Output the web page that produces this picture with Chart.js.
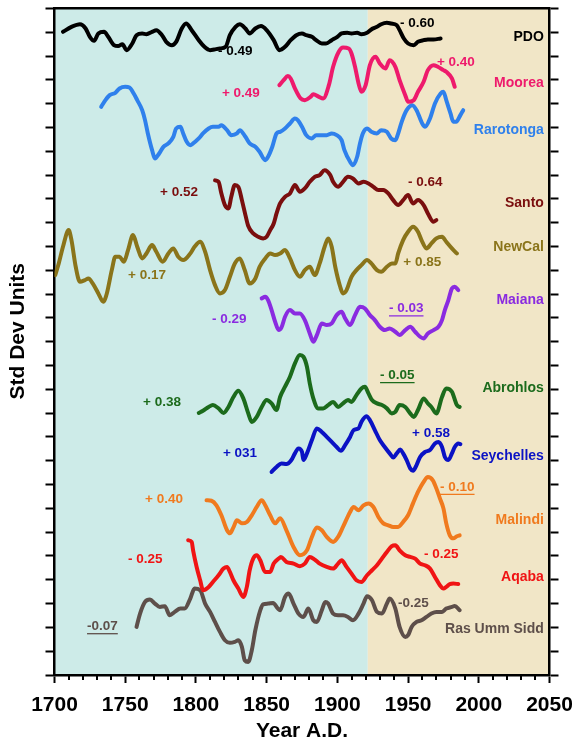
<!DOCTYPE html>
<html><head><meta charset="utf-8">
<script src="https://cdn.jsdelivr.net/npm/chart.js@4.4.1/dist/chart.umd.min.js"></script>
<style>html,body{margin:0;padding:0;background:#fff}#wrap{width:572px;height:742px;position:relative}</style>
</head><body><div id="wrap"><canvas id="c"></canvas></div>
<script>
// Year ticks
const yearMin = 1700, yearMax = 2050, yearStep = 10, yearLabelStep = 50;
const periodSplit = 1921.5;
// Stacked standard-deviation records: [year, value on stacked axis]
const pdo = [[1706,27.02],[1712,27.23],[1718,27.34],[1722,27.16],[1725,26.81],[1728,26.64],[1731,26.95],[1735,27.02],[1738,26.81],[1742,26.46],[1745,26.42],[1748,26.50],[1751,26.25],[1755,26.53],[1758,26.88],[1762,26.95],[1765,26.92],[1769,27.02],[1772,27.09],[1776,26.88],[1779,26.60],[1783,26.46],[1786,26.60],[1790,27.16],[1793,27.37],[1797,27.09],[1802,26.67],[1806,26.39],[1810,26.25],[1813,26.28],[1817,26.32],[1821,26.39],[1824,26.88],[1828,27.23],[1831,27.34],[1835,27.16],[1838,26.95],[1842,27.16],[1846,27.26],[1850,27.09],[1855,26.67],[1859,26.25],[1863,26.39],[1867,26.67],[1871,26.88],[1875,26.95],[1878,26.88],[1882,26.81],[1885,26.67],[1889,26.53],[1892,26.53],[1896,26.67],[1900,26.81],[1903,26.95],[1907,26.98],[1910,26.95],[1914,26.98],[1917,26.92],[1921,26.98],[1924,27.12],[1928,27.23],[1931,27.34],[1935,27.40],[1938,27.37],[1942,27.30],[1944,27.09],[1947,26.74],[1950,26.53],[1954,26.46],[1957,26.60],[1961,26.67],[1964,26.70],[1968,26.70],[1973,26.74]];
const moorea = [[1859,24.78],[1862,24.99],[1865,25.16],[1867,25.06],[1870,24.64],[1874,24.22],[1877,24.15],[1881,24.29],[1883,24.40],[1887,24.29],[1890,24.22],[1894,24.78],[1897,25.55],[1901,26.18],[1904,26.36],[1908,26.32],[1910,26.11],[1912.5,25.55],[1915,24.85],[1917,24.50],[1920,24.78],[1923,25.62],[1927,25.97],[1930,25.69],[1934,25.48],[1937,25.83],[1941,25.55],[1944,24.99],[1948,24.36],[1950,24.08],[1954,24.15],[1957,24.50],[1961,24.92],[1964,25.41],[1968,25.62],[1971,25.55],[1975,25.41],[1977,25.34],[1981,25.06],[1983,24.71]];
const rarotonga = [[1733,23.87],[1736,24.15],[1739,24.36],[1743,24.46],[1746,24.64],[1750,24.71],[1753,24.68],[1756,24.43],[1758.5,24.15],[1762,23.73],[1764,23.31],[1766,22.75],[1769,22.05],[1771,21.70],[1774,21.91],[1777,22.19],[1780.5,22.33],[1784,22.61],[1786,22.96],[1789,23.03],[1791,22.75],[1793.5,22.40],[1796,22.26],[1798,22.33],[1802,22.54],[1805,22.75],[1809,22.96],[1812,23.03],[1816,23.03],[1818,23.10],[1822,22.89],[1825,22.68],[1829,22.75],[1831,22.89],[1835,22.61],[1838,22.33],[1842,22.19],[1845,21.98],[1849,21.63],[1851,21.77],[1854,22.19],[1857,22.75],[1859.5,22.82],[1863,22.96],[1866.5,23.17],[1870,23.38],[1872,23.31],[1875,23.03],[1878,22.68],[1882,22.54],[1885,22.68],[1889,22.68],[1892.5,22.68],[1896,22.75],[1899.5,22.68],[1903,22.47],[1905,22.05],[1909,21.56],[1911,21.42],[1914,21.77],[1916,22.33],[1918,22.75],[1921,22.96],[1924,22.82],[1928,22.75],[1931,22.89],[1935,22.82],[1938,22.54],[1941,22.47],[1943,22.75],[1945.5,23.24],[1949,23.73],[1953,23.94],[1956,23.73],[1960,23.17],[1962,23.03],[1965.5,23.38],[1969,24.01],[1973,24.43],[1975,24.50],[1977,24.15],[1980,23.59],[1982,23.24],[1984,23.24],[1987,23.52],[1989,23.73]];
const santo = [[1813.5,20.78],[1816,20.72],[1818,20.23],[1820.5,19.74],[1823,19.60],[1825,20.09],[1827.5,20.58],[1830,20.51],[1832.5,19.95],[1835,19.32],[1837,18.86],[1840.5,18.55],[1844,18.41],[1847.5,18.34],[1850,18.41],[1852.5,18.69],[1855,18.97],[1857,19.39],[1859.5,19.81],[1863,20.09],[1866.5,20.23],[1870,20.58],[1873.5,20.30],[1877,20.44],[1880.5,20.72],[1884,20.93],[1887.5,21.00],[1891,21.21],[1895,21.00],[1897,20.72],[1900.5,20.51],[1904,20.72],[1907.5,20.93],[1911,20.86],[1915,20.65],[1918.5,20.72],[1922,20.65],[1925.5,20.51],[1929,20.37],[1932.5,20.37],[1936,20.23],[1939.5,19.95],[1943,19.74],[1946.5,19.95],[1950,20.16],[1953.5,19.81],[1957,19.95],[1961,19.74],[1964,19.39],[1968,19.04],[1970,19.11]];
const newcal = [[1700.5,16.80],[1703,17.29],[1706,17.99],[1710,18.69],[1712,18.27],[1715,17.15],[1718,16.52],[1721.5,16.59],[1724,16.66],[1727,16.45],[1731,16.03],[1734.5,15.68],[1737,16.03],[1740.5,17.01],[1743,17.57],[1746,17.57],[1749,17.36],[1752,17.85],[1755.5,18.48],[1758.5,17.99],[1762,17.50],[1765,17.71],[1769,18.06],[1772,17.78],[1776.5,17.36],[1780.5,17.71],[1784,17.92],[1787.5,17.57],[1791,17.43],[1796,17.71],[1799,17.99],[1803,18.20],[1806.5,17.78],[1810,17.01],[1813.5,16.38],[1817,16.03],[1820.5,16.17],[1824,16.73],[1827.5,17.29],[1831,17.50],[1834.5,17.01],[1838,16.45],[1842,16.66],[1845,17.15],[1849,17.50],[1852.5,17.71],[1856,17.64],[1859.5,17.71],[1863,17.85],[1866.5,17.50],[1870,17.01],[1873.5,16.73],[1877,17.01],[1880.5,17.15],[1884,16.80],[1887.5,17.29],[1891,17.99],[1893.5,18.34],[1896,17.99],[1898.5,17.15],[1902,16.31],[1904,16.03],[1906.5,16.17],[1910,16.73],[1913.5,17.01],[1917,17.22],[1921,17.43],[1924,17.29],[1928,17.01],[1931,16.94],[1935,17.15],[1938.5,17.29],[1941,17.29],[1943,17.71],[1946.5,18.27],[1950,18.62],[1953.5,18.83],[1957,18.62],[1959.5,18.27],[1963,17.92],[1966.5,18.13],[1970,18.34],[1974,18.41],[1977,18.20],[1981,17.92],[1984.5,17.71]];
const maiana = [[1846.5,15.82],[1849,15.89],[1851,15.75],[1853.5,15.33],[1856,14.84],[1858.5,14.49],[1860.5,14.60],[1863,15.05],[1866.5,15.33],[1870,15.19],[1873.5,15.19],[1877,14.91],[1880.5,14.35],[1883,14.00],[1885.5,14.28],[1889,14.77],[1892.5,14.70],[1896,14.77],[1899.5,15.12],[1903,15.26],[1905.5,14.98],[1909,14.70],[1912.5,15.12],[1916,15.47],[1919.5,15.40],[1923,15.12],[1926.5,14.91],[1930,14.63],[1933.5,14.49],[1937,14.56],[1941,14.42],[1944,14.28],[1948,14.49],[1951.5,14.63],[1955,14.42],[1958.5,14.21],[1961,14.14],[1964,14.35],[1968,14.49],[1971.5,14.63],[1974,14.91],[1976,15.33],[1978.5,15.75],[1981,16.24],[1983,16.31],[1985.5,16.17]];
const abrohlos = [[1802,11.01],[1805,11.10],[1809,11.26],[1812,11.34],[1816,11.20],[1819.5,11.01],[1823,11.26],[1826.5,11.68],[1830,11.94],[1833.5,11.62],[1837,10.99],[1839.5,10.63],[1843,10.84],[1846.5,11.26],[1850,11.55],[1853.5,11.41],[1857,11.13],[1859.5,11.68],[1863,12.11],[1866.5,12.53],[1870,13.09],[1873.5,13.44],[1876,13.37],[1878.5,12.95],[1880.5,12.25],[1883,11.62],[1886.5,11.20],[1890,11.20],[1893.5,11.34],[1897,11.47],[1900.5,11.26],[1904,11.41],[1907.5,11.55],[1910,11.47],[1913.5,11.76],[1917,12.04],[1919.5,12.11],[1922,11.83],[1924.5,11.55],[1928,11.41],[1931.5,11.34],[1935,11.20],[1938.5,10.99],[1941,11.05],[1944,11.34],[1948,11.26],[1951.5,10.99],[1954,10.84],[1957,11.13],[1961,11.62],[1964,11.41],[1966.5,11.26],[1970,10.99],[1974,11.68],[1977,12.04],[1981,11.90],[1984.5,11.34],[1986.5,11.26]];
const seychelles = [[1853.5,8.53],[1857,8.74],[1860.5,8.89],[1864,8.86],[1867.5,9.03],[1870,9.31],[1872.5,9.52],[1875,9.37],[1876,9.03],[1878.5,9.31],[1882,9.87],[1885.5,10.36],[1889,10.21],[1892.5,10.00],[1896,9.79],[1899.5,9.58],[1902.5,9.42],[1905.5,9.66],[1909,10.00],[1911.5,10.29],[1915,10.36],[1917,10.63],[1920.5,10.87],[1923,10.71],[1926.5,10.29],[1930,9.87],[1933.5,9.58],[1937,9.31],[1939.5,9.14],[1942,9.31],[1944.5,9.47],[1946.5,9.31],[1949,9.03],[1951.5,8.68],[1953.5,8.58],[1956,8.82],[1958.5,9.16],[1962,9.37],[1965.5,9.45],[1969,9.73],[1971.5,9.79],[1974,9.58],[1976,9.16],[1978.5,9.03],[1981,9.31],[1983,9.58],[1985.5,9.73],[1987,9.70]];
const malindi = [[1807.5,7.34],[1811,7.32],[1814.5,7.13],[1818,6.71],[1822,6.08],[1824,5.95],[1826.5,6.20],[1829,6.50],[1832.5,6.37],[1836,6.43],[1839.5,6.71],[1843,7.06],[1846.5,7.34],[1849,7.13],[1852.5,6.71],[1856,6.37],[1859.5,6.58],[1864,6.08],[1869,5.38],[1873.5,5.03],[1878.5,5.24],[1882,5.80],[1885.5,6.20],[1889,6.08],[1892.5,5.80],[1897,5.59],[1900.5,5.80],[1904,6.22],[1909,6.85],[1911.5,7.06],[1915,6.92],[1918.5,7.13],[1922,7.21],[1925.5,7.06],[1929,6.64],[1932.5,6.37],[1936,6.29],[1939.5,6.22],[1943,6.22],[1946.5,6.43],[1950,6.71],[1953.5,7.21],[1957,7.69],[1961,8.11],[1964,8.32],[1967.5,8.18],[1970,7.84],[1972.5,7.42],[1975,7.00],[1977,6.37],[1979.5,5.87],[1982,5.74],[1984.5,5.83],[1986.5,5.87]];
const aqaba = [[1794.5,5.66],[1797,5.59],[1798,5.24],[1800.5,4.54],[1803,3.98],[1805,3.56],[1809,3.70],[1812,3.91],[1816,4.19],[1819.5,4.47],[1822,4.54],[1824,4.33],[1826.5,3.98],[1830,3.63],[1833.5,3.28],[1836,3.70],[1838,4.40],[1840.5,4.89],[1843,5.03],[1845.5,4.82],[1849,4.33],[1852.5,4.33],[1855,4.68],[1858.5,4.89],[1860,4.96],[1864,4.75],[1869,4.68],[1873.5,4.57],[1877,4.68],[1880.5,4.96],[1884,4.85],[1887.5,4.68],[1892.5,4.54],[1897,4.47],[1900.5,4.68],[1903,4.82],[1906.5,4.54],[1910,4.26],[1913.5,3.98],[1917,3.91],[1921,4.19],[1924.5,4.40],[1928,4.61],[1931.5,4.89],[1935,5.17],[1938.5,5.41],[1941,5.45],[1944,5.24],[1948,5.03],[1951.5,4.96],[1955,4.89],[1958.5,4.68],[1962,4.61],[1965.5,4.47],[1969,4.12],[1972.5,3.77],[1975,3.63],[1977,3.70],[1979.5,3.82],[1982,3.84],[1985.5,3.82]];
const rasUmmSidd = [[1758,2.02],[1760.5,2.58],[1764,3.07],[1767.5,3.17],[1771,3.00],[1774.5,2.86],[1778,2.89],[1781.5,2.51],[1785,2.65],[1789,2.79],[1792,2.79],[1796,3.21],[1799,3.63],[1803,3.56],[1806.5,3.00],[1810,2.65],[1813.5,2.23],[1817,1.81],[1820.5,1.46],[1824,1.35],[1827.5,1.39],[1830,1.46],[1832.5,1.18],[1834.5,0.62],[1837,0.55],[1839.5,1.04],[1842,1.88],[1845.5,2.72],[1847.5,2.97],[1851,3.00],[1854.5,3.03],[1858,2.79],[1859.5,2.72],[1863,3.28],[1865.5,3.42],[1869,3.00],[1872.5,2.58],[1876,2.44],[1879.5,2.79],[1883,2.30],[1885.5,2.23],[1889,2.72],[1891.5,3.07],[1893.5,3.00],[1897,2.58],[1900.5,2.51],[1904,2.51],[1907.5,2.44],[1911,2.30],[1915,2.58],[1918.5,3.00],[1921,3.31],[1924.5,3.14],[1928,2.65],[1931.5,2.58],[1935,3.00],[1937,3.21],[1941,2.79],[1944,2.02],[1948,1.60],[1950,1.67],[1952.5,2.02],[1956,2.23],[1959.5,2.30],[1963,2.44],[1966.5,2.58],[1970,2.65],[1974,2.65],[1977,2.79],[1981,2.86],[1983,2.90],[1986.5,2.72]];

const seriesNames = ['PDO','Moorea','Rarotonga','Santo','NewCal','Maiana','Abrohlos','Seychelles','Malindi','Aqaba','Ras Umm Sidd'];
const seriesData = [pdo, moorea, rarotonga, santo, newcal, maiana, abrohlos, seychelles, malindi, aqaba, rasUmmSidd];
const seriesColors = ['#000000','#ee1a6c','#2f80ec','#7a0e0e','#8a741a','#8a2be0','#1c6b1c','#0b12c4','#f07a1e','#f01414','#5e4f4a'];
// Right-hand names: anchored (right edge) at year, stacked-axis value
const nameYear = 2046;
const nameValues = [26.81, 24.85, 22.89, 19.81, 17.99, 15.75, 12.04, 9.19, 6.50, 4.12, 1.91];
// Correlation annotations
const annTexts  = ['- 0.49','- 0.60','+ 0.49','+ 0.40','+ 0.52','- 0.64','+ 0.17','+ 0.85','- 0.29','- 0.03','+ 0.38','- 0.05','+ 031','+ 0.58','+ 0.40','- 0.10','- 0.25','- 0.25','-0.07','-0.25'];
const annYears  = [1815.6, 1944.3, 1818.4, 1970.4, 1774.6, 1950.0, 1752.0, 1946.6, 1811.4, 1936.5, 1762.6, 1930.2, 1819.1, 1952.8, 1764.0, 1972.6, 1752.0, 1961.3, 1723.0, 1942.9];
const annValues = [26.22, 27.40, 24.43, 25.74, 20.27, 20.72, 16.80, 17.32, 14.95, 15.40, 11.47, 12.60, 9.33, 10.15, 7.37, 7.90, 4.87, 5.08, 2.05, 3.03];
const annSeries = [0,0,1,1,3,3,4,4,5,5,6,6,7,7,8,8,9,9,10,10];
const annUnderline = [false,false,false,false,false,false,false,false,false,true,false,true,false,false,false,true,false,false,true,false];

const tealColor = '#cdebe8';
const beigeColor = '#f1e6c7';
const FONT = "'Liberation Sans', Arial, Helvetica, sans-serif";

Chart.defaults.font.family = FONT;

const decor = {
  id: 'decor',
  beforeDraw(chart) {
    const {ctx, chartArea: a, scales: {x}} = chart;
    ctx.save();
    ctx.fillStyle = '#fff';
    ctx.fillRect(0, 0, chart.width, chart.height);
    const xb = x.getPixelForValue(periodSplit);
    ctx.fillStyle = tealColor;
    ctx.fillRect(a.left, a.top, xb - a.left, a.bottom - a.top);
    ctx.fillStyle = beigeColor;
    ctx.fillRect(xb, a.top, a.right - xb, a.bottom - a.top);
    ctx.restore();
  },
  afterDraw(chart) {
    const {ctx, chartArea: a, scales: {x, y}} = chart;
    ctx.save();
    // minor year ticks
    ctx.strokeStyle = '#000';
    ctx.lineWidth = 2;
    for (let v = yearMin; v <= yearMax; v += yearStep) {
      if (v % yearLabelStep === 0) continue;
      const px = Math.round(x.getPixelForValue(v));
      ctx.beginPath();
      ctx.moveTo(px, a.bottom);
      ctx.lineTo(px, a.bottom + 5);
      ctx.stroke();
    }
    // series names
    ctx.font = 'bold 14px ' + FONT;
    ctx.textAlign = 'right';
    ctx.textBaseline = 'middle';
    seriesNames.forEach((n, i) => {
      ctx.fillStyle = seriesColors[i];
      ctx.fillText(n, x.getPixelForValue(nameYear), y.getPixelForValue(nameValues[i]));
    });
    // annotations
    ctx.font = 'bold 13.5px ' + FONT;
    ctx.textAlign = 'left';
    annTexts.forEach((t, i) => {
      const px = x.getPixelForValue(annYears[i]);
      const py = y.getPixelForValue(annValues[i]);
      const col = seriesColors[annSeries[i]];
      ctx.fillStyle = col;
      ctx.fillText(t, px, py);
      if (annUnderline[i]) {
        const w = ctx.measureText(t).width;
        ctx.strokeStyle = col;
        ctx.lineWidth = 1.3;
        ctx.beginPath();
        ctx.moveTo(px, py + 7.5);
        ctx.lineTo(px + w, py + 7.5);
        ctx.stroke();
      }
    });
    ctx.restore();
  }
};

const axisBorder = {display: true, color: '#000', width: 2.5};

new Chart(document.getElementById('c'), {
  type: 'line',
  data: {
    datasets: seriesData.map((d, i) => ({
      label: seriesNames[i],
      data: d.map(p => ({x: p[0], y: p[1]})),
      borderColor: seriesColors[i],
      borderWidth: 4,
      pointRadius: 0,
      fill: false,
      cubicInterpolationMode: 'monotone',
      borderCapStyle: 'round',
      borderJoinStyle: 'round'
    }))
  },
  options: {
    responsive: true,
    maintainAspectRatio: false,
    animation: false,
    devicePixelRatio: 1,
    layout: {padding: {top: 8.5, left: 0, right: 0, bottom: 0}},
    plugins: {legend: {display: false}, tooltip: {enabled: false}},
    scales: {
      x: {
        type: 'linear', position: 'bottom', min: yearMin, max: yearMax,
        ticks: {stepSize: yearStep, autoSkip: false, maxRotation: 0, padding: 12, color: '#000',
                font: {size: 21, weight: 'bold', lineHeight: 1},
                callback: v => (v % yearLabelStep === 0 ? String(v) : '')},
        grid: {drawOnChartArea: false, drawTicks: true, tickLength: 8, tickWidth: 2,
               tickColor: c => (c.tick && c.tick.value % yearLabelStep === 0) ? '#000' : 'rgba(0,0,0,0)'},
        border: axisBorder,
        title: {display: true, text: 'Year A.D.', color: '#000', font: {size: 21, weight: 'bold', lineHeight: 1}, padding: {top: 0, bottom: 0}},
        afterFit: s => { s.height = 67; s.paddingLeft = 0; s.paddingRight = 0; }
      },
      xTop: {
        type: 'linear', position: 'top', min: yearMin, max: yearMax,
        ticks: {display: false}, grid: {display: false, drawTicks: false},
        border: axisBorder,
        afterFit: s => { s.height = 0; s.paddingLeft = 0; s.paddingRight = 0; }
      },
      y: {
        type: 'linear', position: 'left', min: 0, max: 28,
        ticks: {display: false, stepSize: 1},
        grid: {drawOnChartArea: false, drawTicks: true, tickLength: 9, tickWidth: 2, tickColor: '#000'},
        border: axisBorder,
        title: {display: true, text: '\u2003Std Dev Units', color: '#000', font: {size: 21, weight: 'bold', lineHeight: 1}, padding: {top: 7.5, bottom: 0}},
        afterFit: s => { s.width = 54.5; s.paddingTop = 0; s.paddingBottom = 0; }
      },
      y2: {
        type: 'linear', position: 'right', min: 0, max: 28,
        ticks: {display: false, stepSize: 1},
        grid: {drawOnChartArea: false, drawTicks: true, tickLength: 9, tickWidth: 2, tickColor: '#000'},
        border: axisBorder,
        afterFit: s => { s.width = 22.5; s.paddingTop = 0; s.paddingBottom = 0; }
      }
    }
  },
  plugins: [decor]
});
</script></body></html>
